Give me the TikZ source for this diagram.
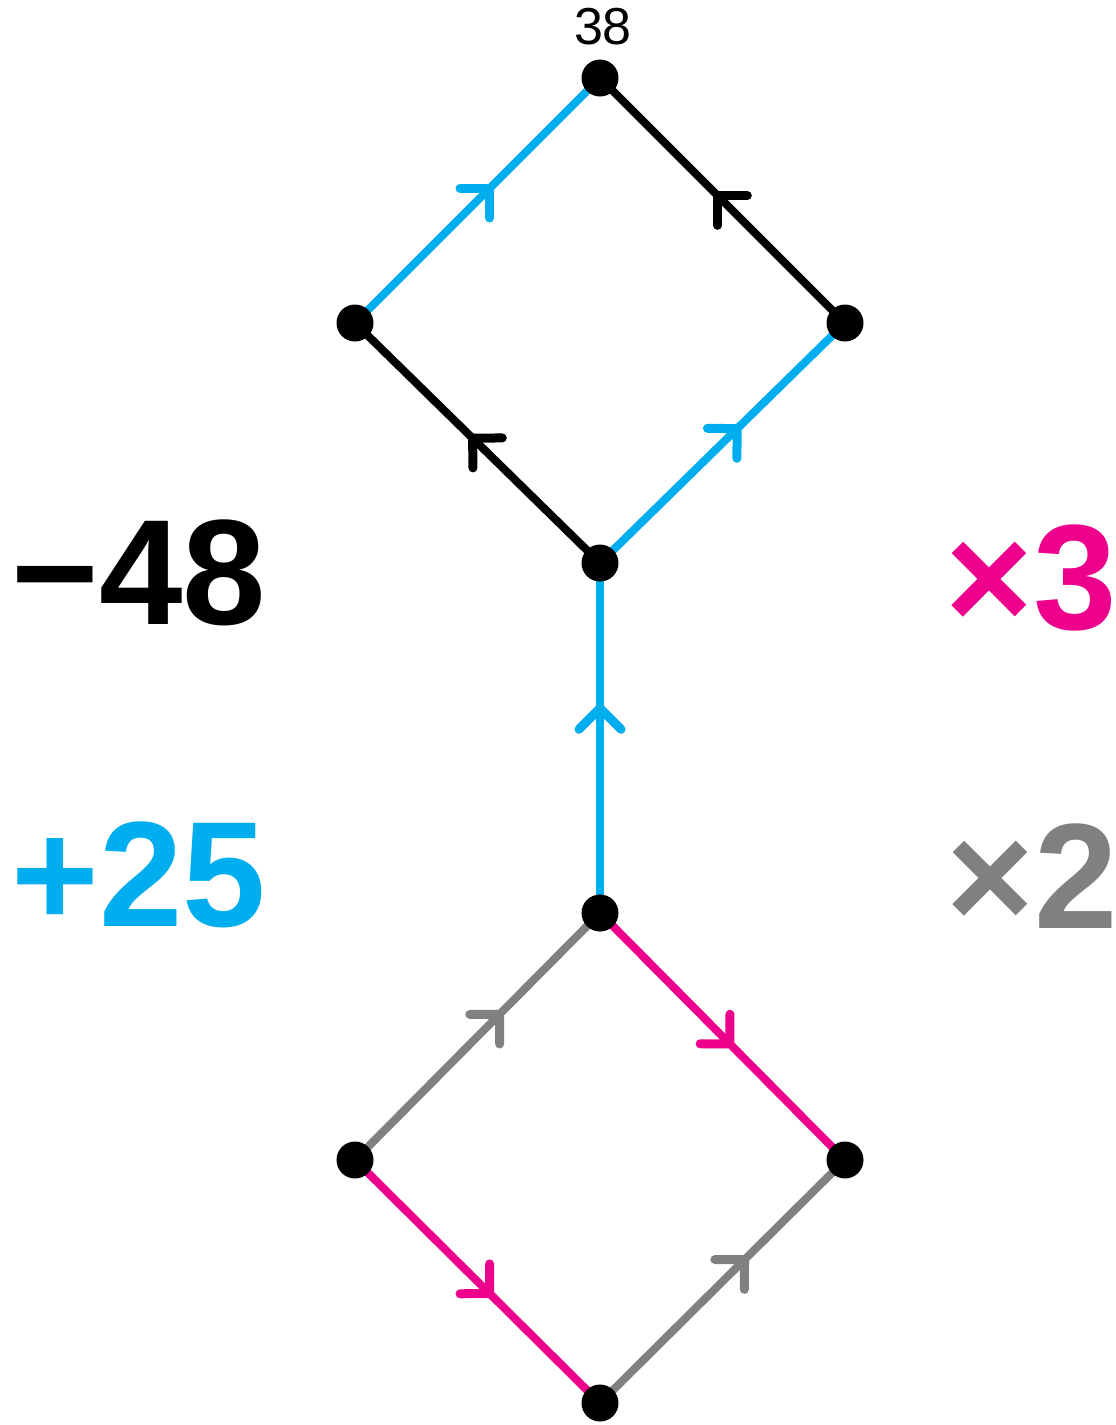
\documentclass[tikz,border=0pt]{standalone}
\usepackage{fontspec}
\setmainfont{Liberation Sans}
\usetikzlibrary{decorations.markings,backgrounds}
\definecolor{cblue}{HTML}{00AEEF}
\definecolor{cmag}{HTML}{EC008C}
\definecolor{cgray}{HTML}{808080}
\tikzset{
 dot/.style={circle,fill=black,inner sep=0pt,minimum size=37pt},
 edge/.style={line width=8pt},
 midarr/.style={postaction={decorate},decoration={markings,mark=at position #1 with {\draw[line width=9pt,line cap=round,line join=round] (-21pt,21pt)--(0pt,0pt)--(-21pt,-21pt);}}},
 big/.style={font=\fontsize{150}{150}\selectfont\bfseries, inner sep=0pt},
}
\begin{document}
\begin{tikzpicture}[x=1pt,y=-1pt]
\useasboundingbox (0,0) rectangle (1116,1425);
\node[dot] (top) at (600,78) {};
\node[dot] (ul) at (355,323) {};
\node[dot] (ur) at (845,323) {};
\node[dot] (m) at (600,563) {};
\node[dot] (lm) at (600,913) {};
\node[dot] (ll) at (355,1160) {};
\node[dot] (lr) at (845,1160) {};
\node[dot] (b) at (600,1403) {};
\begin{scope}[on background layer]
\draw[edge,color=cblue,midarr=0.55] (ul.center) -- (top.center);
\draw[edge,color=black,midarr=0.52] (ur.center) -- (top.center);
\draw[edge,color=black,midarr=0.52] (m.center) -- (ul.center);
\draw[edge,color=cblue,midarr=0.56] (m.center) -- (ur.center);
\draw[edge,color=cblue,midarr=0.585] (lm.center) -- (m.center);
\draw[edge,color=cgray,midarr=0.59] (ll.center) -- (lm.center);
\draw[edge,color=cmag,midarr=0.53] (lm.center) -- (lr.center);
\draw[edge,color=cmag,midarr=0.55] (ll.center) -- (b.center);
\draw[edge,color=cgray,midarr=0.59] (b.center) -- (lr.center);
\end{scope}
\node[font=\fontsize{52}{52}\selectfont, inner sep=0pt] (lab38) at (603,27) {38};
\node[big,text=black] (lminus) at (139,573) {−48};
\node[big,text=cmag] (ltimes3) at (1031,578) {×3};
\node[big,text=cblue] (lplus) at (139,875) {+25};
\node[big,text=cgray] (ltimes2) at (1032,876) {×2};
\end{tikzpicture}
\end{document}
